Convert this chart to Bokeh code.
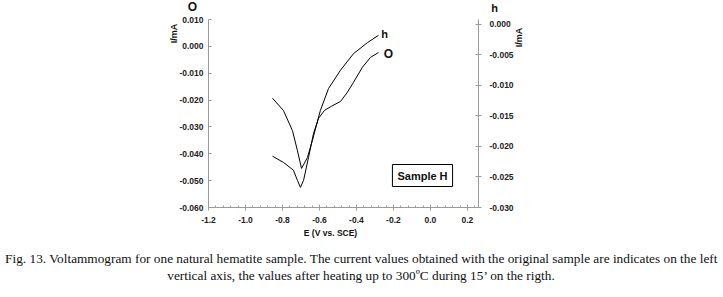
import math
from bokeh.plotting import figure
from bokeh.models import Range1d, LinearAxis, FixedTicker, PrintfTickFormatter, Label
from bokeh.embed import file_html
from bokeh.resources import INLINE

# Original sample (left axis, I/mA)
E_orig = [-0.854, -0.795, -0.741, -0.719, -0.703, -0.686, -0.659, -0.632, -0.605,
          -0.572, -0.535, -0.486, -0.449, -0.416, -0.368, -0.324, -0.281]
I_orig = [-0.0409, -0.0432, -0.0461, -0.0499, -0.0525, -0.0499, -0.0413, -0.0324, -0.0268,
          -0.0238, -0.0223, -0.0205, -0.0171, -0.0134, -0.0078, -0.0041, -0.0023]

# After heating (right axis, I/mA)
E_heat = [-0.854, -0.795, -0.746, -0.719, -0.697, -0.665, -0.638, -0.595, -0.551,
          -0.486, -0.416, -0.341, -0.281]
I_heat = [-0.0121, -0.0141, -0.0174, -0.0207, -0.0236, -0.0218, -0.0190, -0.0141, -0.0105,
          -0.0075, -0.0048, -0.0030, -0.0018]

x_ticks = [-1.2, -1.0, -0.8, -0.6, -0.4, -0.2, 0.0, 0.2]
left_ticks = [0.010, 0.000, -0.010, -0.020, -0.030, -0.040, -0.050, -0.060]
right_ticks = [0.000, -0.005, -0.010, -0.015, -0.020, -0.025, -0.030]

FONT = "Liberation Sans"
GRAY = "#9a9a9a"
W, H = 723, 297

# frame edges in picture pixels
FL, FR, FT, FB = 208, 478, 19, 207

p = figure(width=W, height=H, output_backend="svg", toolbar_location=None,
           x_range=Range1d(-1.2, 0.26), y_range=Range1d(-0.060, 0.010),
           min_border_left=FL, min_border_right=W - FR, min_border_top=FT,
           min_border_bottom=H - FB)
p.outline_line_color = None
p.xgrid.visible = False
p.ygrid.visible = False
p.extra_y_ranges = {"h": Range1d(-0.030, 0.0008)}

minor = [round(-1.2 + 0.04 * i, 3) for i in range(0, 37)]
xa = p.xaxis[0]
xa.ticker = FixedTicker(ticks=x_ticks, minor_ticks=minor)
xa.formatter = PrintfTickFormatter(format="%.1f")
ya = p.yaxis[0]
ya.ticker = FixedTicker(ticks=left_ticks)
ya.formatter = PrintfTickFormatter(format="%.3f")

ra = LinearAxis(y_range_name="h", ticker=FixedTicker(ticks=right_ticks),
                formatter=PrintfTickFormatter(format="%.3f"))
p.add_layout(ra, "right")

for ax in (xa, ya, ra):
    ax.axis_line_color = GRAY
    ax.major_tick_line_color = GRAY
    ax.minor_tick_line_color = GRAY
    ax.major_label_text_font = FONT
    ax.major_label_text_font_style = "bold"
    ax.major_label_text_font_size = "8.5px"
    ax.major_label_text_color = "#222222"

xa.major_tick_in = 3
xa.major_tick_out = 3
xa.minor_tick_in = 2
xa.minor_tick_out = 0
xa.major_label_standoff = 6
ya.major_tick_in = 3
ya.major_tick_out = 0
ya.minor_tick_line_color = None
ya.major_label_standoff = 5
ra.major_tick_in = 3
ra.major_tick_out = 3
ra.minor_tick_line_color = None
ra.major_label_standoff = 8

p.line(E_orig, I_orig, line_color="black", line_width=1)
p.line(E_heat, I_heat, line_color="black", line_width=1, y_range_name="h")


def lab(text, rx, ry, size, style="bold", angle=0.0, font=FONT, side=None, **kw):
    if side is not None:
        # outside the frame: absolute canvas position
        x, y, u = rx, ry, "canvas"
    else:
        x, y, u = rx - FL, FB - ry, "screen"
    label = Label(x=x, y=y, x_units=u, y_units=u,
                  text=text, text_font=font, text_font_size=size,
                  text_font_style=style, text_align="center", text_baseline="middle",
                  angle=angle, text_color="#111111", **kw)
    if side is None:
        p.add_layout(label)
    else:
        p.add_layout(label, side)


lab("O", 192, 6, "12px", side="left")
lab("I/mA", 173, 33, "9px", angle=math.pi / 2, side="left")
lab("h", 494, 7, "11px", side="right")
lab("I/mA", 518, 37, "9px", angle=math.pi / 2, side="right")
lab("h", 384, 33, "11px")
lab("O", 388, 53, "12px")
lab("Sample H", 422, 175, "11px", border_line_color="black", border_line_width=1,
    background_fill_color="white", padding=5)

cap1 = ("Fig. 13. Voltammogram for one natural hematite sample. The current values obtained "
        "with the original sample are indicates on the left")
cap2 = "vertical axis, the values after heating up to 300\u00baC during 15\u2019 on the rigth."
lab("E (V vs. SCE)", 330, 232, "8.5px", side="below")
lab(cap1, 361, 258, "13.3px", style="normal", font="Liberation Serif", side="below")
lab(cap2, 361, 275, "13.3px", style="normal", font="Liberation Serif", side="below")

open("out.html", "w").write(file_html(p, INLINE))
